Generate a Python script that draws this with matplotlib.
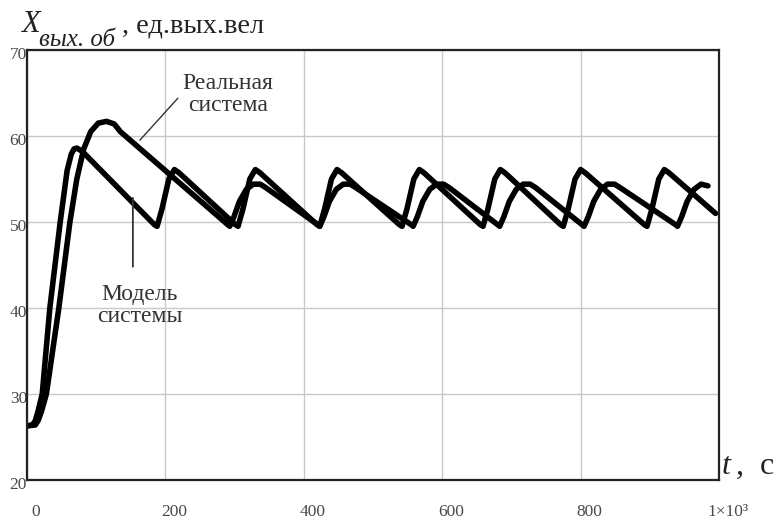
import matplotlib
matplotlib.use("Agg")
import matplotlib.pyplot as plt
from matplotlib.transforms import ScaledTranslation

plt.rcParams['font.family'] = ['Liberation Serif', 'DejaVu Serif']

# Модель системы (пилообразный процесс)
model_t = [0, 8, 12, 16, 22, 33, 48, 58, 64, 68, 72, 80,
           184, 188, 195, 205, 213, 220,
           301, 305, 312, 322, 330, 337,
           419, 423, 430, 440, 448, 455,
           538, 542, 549, 559, 567, 574,
           655, 659, 666, 676, 684, 691,
           771, 775, 782, 792, 800, 807,
           892, 896, 903, 913, 921, 928,
           995]
model_x = [26.3, 26.4, 26.9, 28.0, 30, 40, 50, 56, 57.9, 58.5, 58.6, 58.2,
           49.7, 49.5, 51.5, 55.0, 56.1, 55.7,
           49.7, 49.5, 51.5, 55.0, 56.1, 55.7,
           49.7, 49.5, 51.5, 55.0, 56.1, 55.7,
           49.7, 49.5, 51.5, 55.0, 56.1, 55.7,
           49.7, 49.5, 51.5, 55.0, 56.1, 55.7,
           49.7, 49.5, 51.5, 55.0, 56.1, 55.7,
           49.7, 49.5, 51.5, 55.0, 56.1, 55.7,
           51.0]

# Реальная система
real_t = [0, 12, 16, 21, 28, 46, 62, 72, 82, 92, 103, 115, 126, 135,
          290, 293, 299, 307, 317, 327, 337, 345,
          420, 423, 429, 437, 447, 457, 467, 475,
          555, 558, 564, 572, 582, 592, 602, 610,
          680, 683, 689, 697, 707, 717, 727, 735,
          802, 805, 811, 819, 829, 839, 849, 857,
          937, 940, 946, 954, 964, 974, 984]
real_x = [26.3, 26.4, 26.9, 28.0, 30, 40, 50, 55, 58.5, 60.5, 61.5, 61.7, 61.4, 60.5,
          49.7, 49.5, 50.6, 52.4, 53.8, 54.4, 54.4, 54.0,
          49.7, 49.5, 50.6, 52.4, 53.8, 54.4, 54.4, 54.0,
          49.7, 49.5, 50.6, 52.4, 53.8, 54.4, 54.4, 54.0,
          49.7, 49.5, 50.6, 52.4, 53.8, 54.4, 54.4, 54.0,
          49.7, 49.5, 50.6, 52.4, 53.8, 54.4, 54.4, 54.0,
          49.7, 49.5, 50.6, 52.4, 53.8, 54.4, 54.2]

x_ticks = [0, 200, 400, 600, 800, 1000]
x_tick_labels = ['0', '200', '400', '600', '800', '1×10³']
y_ticks = [20, 30, 40, 50, 60, 70]

W, H = 783, 522
fig = plt.figure(figsize=(W / 100, H / 100), dpi=100)
ax = fig.add_axes([27 / W, 1 - 480 / H, (719 - 27) / W, (480 - 50) / H])

ax.plot(model_t, model_x, color='black', lw=4.0, solid_joinstyle='round', solid_capstyle='round')
ax.plot(real_t, real_x, color='black', lw=4.0, solid_joinstyle='round', solid_capstyle='round')

ax.set_xlim(0, 1000)
ax.set_ylim(20, 70)
ax.set_xticks(x_ticks)
ax.set_xticklabels(x_tick_labels)
ax.set_yticks(y_ticks)
ax.grid(True, color='#c8c8c8', lw=1.0)
ax.tick_params(length=0, labelsize=12.5, labelcolor='#4a4a4a')
ax.tick_params(axis='x', pad=17)
ax.tick_params(axis='y', pad=0)
for lab in ax.get_xticklabels():
    lab.set_transform(lab.get_transform() + ScaledTranslation(0.09, 0, fig.dpi_scale_trans))
for lab in ax.get_yticklabels():
    lab.set_transform(lab.get_transform() + ScaledTranslation(0, -0.03, fig.dpi_scale_trans))
for s in ax.spines.values():
    s.set_color('#222222')
    s.set_linewidth(1.6)

# подпись оси Y
fig.text(21 / W, 1 - 32 / H, 'X', fontsize=22, style='italic', color='#222222', va='baseline')
fig.text(39 / W, 1 - 46 / H, 'вых. об', fontsize=18, style='italic', color='#222222', va='baseline')
fig.text(122 / W, 1 - 33 / H, ', ед.вых.вел', fontsize=20.5, color='#222222', va='baseline')

# подпись оси X
fig.text(722 / W, 1 - 474 / H, 't', fontsize=23, style='italic', color='#222222', va='baseline')
fig.text(736 / W, 1 - 474 / H, ',  с', fontsize=23, color='#222222', va='baseline')

# выноски
ax.text(290, 64.8, 'Реальная\nсистема', ha='center', va='center',
        fontsize=17, color='#333333', linespacing=1.05)
ax.annotate('', xy=(163, 59.5), xytext=(218, 64.4),
            arrowprops=dict(arrowstyle='-', color='#333333', lw=1.0, shrinkA=0, shrinkB=0))
ax.text(163, 40.3, 'Модель\nсистемы', ha='center', va='center',
        fontsize=17, color='#333333', linespacing=1.05)
ax.annotate('', xy=(153, 52.8), xytext=(153, 44.8),
            arrowprops=dict(arrowstyle='-', color='#333333', lw=1.3, shrinkA=0, shrinkB=0))

fig.savefig('out.png', dpi=100)
